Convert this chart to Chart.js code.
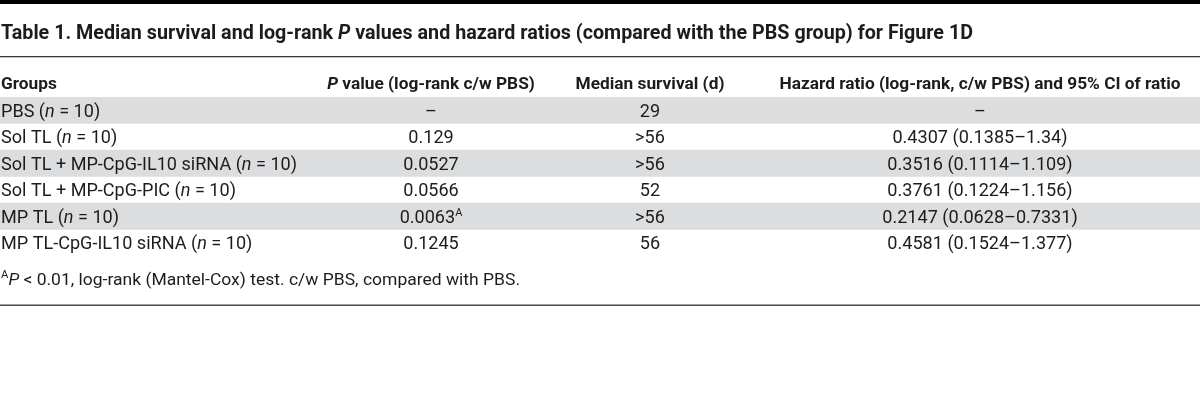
<!DOCTYPE html>
<html>
<head>
<meta charset="utf-8">
<script src="https://cdn.jsdelivr.net/npm/chart.js@4.4.1/dist/chart.umd.min.js"></script>
<style>
  html, body { margin: 0; padding: 0; background: #fff; }
  canvas { display: block; }
</style>
</head>
<body>
<canvas id="table" width="1200" height="401"></canvas>
<script>
  // Table content. *...* = italic, ^X = superscript
  const title = 'Table 1. Median survival and log-rank *P* values and hazard ratios (compared with the PBS group) for Figure 1D';
  const columns = ['Groups', '*P* value (log-rank c/w PBS)', 'Median survival (d)', 'Hazard ratio (log-rank, c/w PBS) and 95% CI of ratio'];
  const groups = [
    'PBS (*n* = 10)',
    'Sol TL (*n* = 10)',
    'Sol TL + MP-CpG-IL10 siRNA (*n* = 10)',
    'Sol TL + MP-CpG-PIC (*n* = 10)',
    'MP TL (*n* = 10)',
    'MP TL-CpG-IL10 siRNA (*n* = 10)'
  ];
  const pValues = ['–', '0.129', '0.0527', '0.0566', '0.0063^A', '0.1245'];
  const medianSurvival = ['29', '>56', '>56', '52', '>56', '56'];
  const hazardRatios = ['–', '0.4307 (0.1385–1.34)', '0.3516 (0.1114–1.109)', '0.3761 (0.1224–1.156)', '0.2147 (0.0628–0.7331)', '0.4581 (0.1524–1.377)'];
  const footnote = '^A*P* < 0.01, log-rank (Mantel-Cox) test. c/w PBS, compared with PBS.';

  const FONT = 'Roboto, "Noto Sans", sans-serif';
  const TEXT = '#1c1c1c';
  const BAND = '#dcdddf';

  // column anchors on the x scale (0..1200)
  const colX = [1, 431, 650, 980];
  const colAlign = ['left', 'center', 'center', 'center'];

  // styles: the original face is narrower than Roboto, so each style gets squeezed to a measured width
  const styles = {
    title:  { weight: 'bold',   size: 21, ref: title,      width: 972 },
    header: { weight: 'bold',   size: 17, ref: columns[3], width: 401 },
    body:   { weight: 'normal', size: 18, ref: groups[2],  width: 296 },
    note:   { weight: 'normal', size: 17, ref: footnote,   width: 519 }
  };

  function parse(str) {
    const segs = [];
    let italic = false, buf = '';
    for (let i = 0; i < str.length; i++) {
      const c = str[i];
      if (c === '*') {
        if (buf) segs.push({ t: buf, italic, sup: false });
        buf = '';
        italic = !italic;
      } else if (c === '^') {
        if (buf) segs.push({ t: buf, italic, sup: false });
        buf = '';
        segs.push({ t: str[i + 1], italic: false, sup: true });
        i++;
      } else {
        buf += c;
      }
    }
    if (buf) segs.push({ t: buf, italic, sup: false });
    return segs;
  }

  function segFont(seg, st) {
    const size = seg.sup ? Math.round(st.size * 0.62) : st.size;
    return (seg.italic ? 'italic ' : '') + st.weight + ' ' + size + 'px ' + FONT;
  }

  function naturalWidth(ctx, segs, st) {
    let w = 0;
    segs.forEach(s => { ctx.font = segFont(s, st); w += ctx.measureText(s.t).width; });
    return w;
  }

  function drawRich(ctx, str, x, y, align, st) {
    const segs = parse(str);
    const w = naturalWidth(ctx, segs, st) * st.sx;
    let x0 = x;
    if (align === 'center') x0 = x - w / 2;
    else if (align === 'right') x0 = x - w;
    ctx.save();
    ctx.translate(x0, y);
    ctx.scale(st.sx, 1);
    ctx.fillStyle = TEXT;
    ctx.textBaseline = 'alphabetic';
    ctx.textAlign = 'left';
    let cx = 0;
    segs.forEach(s => {
      ctx.font = segFont(s, st);
      ctx.fillText(s.t, cx, s.sup ? -st.size * 0.4 : 0);
      cx += ctx.measureText(s.t).width;
    });
    ctx.restore();
  }

  const tablePlugin = {
    id: 'tableText',
    afterDatasetsDraw(chart) {
      const ctx = chart.ctx;
      const xs = chart.scales.x;
      const ys = chart.scales.y;
      const W = chart.width;

      Object.values(styles).forEach(st => {
        st.sx = 1;
        st.sx = st.width / naturalWidth(ctx, parse(st.ref), st);
      });

      // rules
      ctx.save();
      ctx.fillStyle = '#000';
      ctx.fillRect(0, 0, W, 4);
      ctx.fillStyle = '#3a3a3a';
      ctx.fillRect(0, 56, W, 1.3);
      ctx.fillRect(0, 304.5, W, 1.4);
      ctx.restore();

      drawRich(ctx, title, 1, 39, 'left', styles.title);

      columns.forEach((c, j) => {
        drawRich(ctx, c, xs.getPixelForValue(colX[j]), 89, colAlign[j], styles.header);
      });

      const cells = [groups, pValues, medianSurvival, hazardRatios];
      groups.forEach((g, i) => {
        const y = ys.getPixelForValue(i) + styles.body.size * 0.36;
        cells.forEach((col, j) => {
          drawRich(ctx, col[i], xs.getPixelForValue(colX[j]), y, colAlign[j], styles.body);
        });
      });

      drawRich(ctx, footnote, 1, 284.5, 'left', styles.note);
    }
  };

  // alternate shaded rows as floating bars across the full width
  const bands = groups.map((g, i) => (i % 2 === 0 ? [0, 1200] : null));

  new Chart(document.getElementById('table'), {
    type: 'bar',
    data: {
      labels: groups,
      datasets: [{
        data: bands,
        backgroundColor: BAND,
        borderWidth: 0,
        barPercentage: 1,
        categoryPercentage: 1
      }]
    },
    options: {
      indexAxis: 'y',
      responsive: false,
      animation: false,
      events: [],
      layout: { padding: { top: 97, bottom: 145, left: 0, right: 0 } },
      scales: {
        x: { type: 'linear', min: 0, max: 1200, display: false },
        y: { type: 'category', display: false, offset: true }
      },
      plugins: {
        legend: { display: false },
        tooltip: { enabled: false }
      }
    },
    plugins: [tablePlugin]
  });
</script>
</body>
</html>
